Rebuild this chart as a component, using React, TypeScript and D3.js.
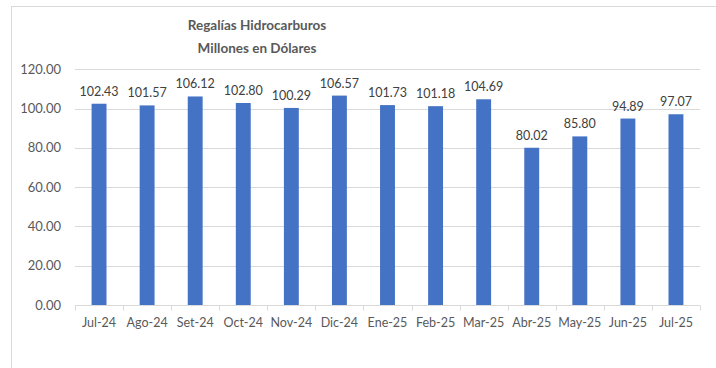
import React, { useEffect, useRef } from 'react';
import * as d3 from 'd3';

const months = ['Jul-24', 'Ago-24', 'Set-24', 'Oct-24', 'Nov-24', 'Dic-24', 'Ene-25', 'Feb-25', 'Mar-25', 'Abr-25', 'May-25', 'Jun-25', 'Jul-25'];
const royalties = [102.43, 101.57, 106.12, 102.8, 100.29, 106.57, 101.73, 101.18, 104.69, 80.02, 85.8, 94.89, 97.07];
const yTicks = [0, 20, 40, 60, 80, 100, 120];
const titleLines = ['Regalías Hidrocarburos', 'Millones en Dólares'];

const RoyaltiesChart: React.FC = () => {
  const svgRef = useRef<SVGSVGElement>(null);

  useEffect(() => {
    if (!svgRef.current) return;
    const svg = d3.select(svgRef.current);
    svg.selectAll('*').remove();

    const font = 'Lato, Carlito, Calibri, sans-serif';
    const left = 75, right = 700, top = 69.2, bottom = 305;

    // chart frame (only left & top edges visible in crop)
    svg.append('rect')
      .attr('x', 11.5).attr('y', 6.5)
      .attr('width', 800).attr('height', 400)
      .attr('fill', 'white')
      .attr('stroke', '#d9d9d9');

    const x = d3.scaleBand().domain(months).range([left, right]).paddingInner(0.69).paddingOuter(0.345);
    const band = d3.scaleBand().domain(months).range([left, right]);
    const y = d3.scaleLinear().domain([0, 120]).range([bottom, top]);

    // gridlines
    svg.append('g')
      .selectAll('line')
      .data(yTicks.filter(t => t > 0))
      .enter()
      .append('line')
      .attr('x1', left).attr('x2', right)
      .attr('y1', d => Math.round(y(d)) + 0.5).attr('y2', d => Math.round(y(d)) + 0.5)
      .attr('stroke', '#d9d9d9');

    // y labels
    svg.append('g')
      .selectAll('text')
      .data(yTicks)
      .enter()
      .append('text')
      .attr('x', 61)
      .attr('y', d => y(d))
      .attr('dy', '0.35em')
      .attr('text-anchor', 'end')
      .style('font-family', font)
      .style('font-size', '13px')
      .style('fill', '#595959')
      .text(d => d.toFixed(2));

    // bars
    svg.append('g')
      .selectAll('rect')
      .data(royalties)
      .enter()
      .append('rect')
      .attr('x', (d, i) => x(months[i]) || 0)
      .attr('y', d => y(d))
      .attr('width', x.bandwidth())
      .attr('height', d => bottom - y(d))
      .attr('fill', '#4472c4');

    // value labels
    svg.append('g')
      .selectAll('text')
      .data(royalties)
      .enter()
      .append('text')
      .attr('x', (d, i) => (band(months[i]) || 0) + band.bandwidth() / 2)
      .attr('y', d => y(d) - 8)
      .attr('text-anchor', 'middle')
      .style('font-family', font)
      .style('font-size', '12.5px')
      .style('fill', '#404040')
      .text(d => d.toFixed(2));

    // x axis
    const axis = svg.append('g').attr('transform', `translate(0,${Math.round(bottom) + 0.5})`);
    axis.append('line').attr('x1', left).attr('x2', right).attr('stroke', '#d9d9d9');
    axis.selectAll('line.tick')
      .data(d3.range(months.length + 1))
      .enter()
      .append('line')
      .attr('class', 'tick')
      .attr('x1', i => Math.round(left + i * band.step()) + 0.5)
      .attr('x2', i => Math.round(left + i * band.step()) + 0.5)
      .attr('y1', 0).attr('y2', 5)
      .attr('stroke', '#d9d9d9');
    axis.selectAll('text')
      .data(months)
      .enter()
      .append('text')
      .attr('x', d => (band(d) || 0) + band.bandwidth() / 2)
      .attr('y', 17.5)
      .attr('dy', '0.35em')
      .attr('text-anchor', 'middle')
      .style('font-family', font)
      .style('font-size', '12.5px')
      .style('fill', '#595959')
      .text(d => d);

    // title
    svg.append('g')
      .selectAll('text')
      .data(titleLines)
      .enter()
      .append('text')
      .attr('x', 257)
      .attr('y', (d, i) => 25 + i * 23)
      .attr('dy', '0.35em')
      .attr('text-anchor', 'middle')
      .style('font-family', font)
      .style('font-size', '13.5px')
      .style('font-weight', 'bold')
      .style('fill', '#595959')
      .text(d => d);
  }, []);

  return (
    <svg
      ref={svgRef}
      width={716}
      height={368}
      style={{ position: 'absolute', left: 0, top: 0, background: 'white' }}
    />
  );
};

export default function App() {
  return <RoyaltiesChart />;
}
